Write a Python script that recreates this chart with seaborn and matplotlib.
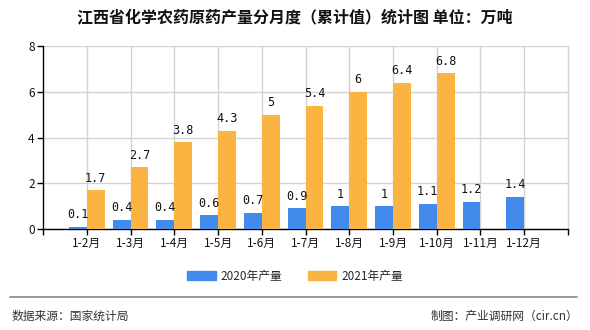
import numpy as np
import pandas as pd
import matplotlib
matplotlib.use("Agg")
import matplotlib.pyplot as plt
import seaborn as sns

months = ["1-2月", "1-3月", "1-4月", "1-5月", "1-6月", "1-7月", "1-8月",
          "1-9月", "1-10月", "1-11月", "1-12月"]
output_2020 = [0.1, 0.4, 0.4, 0.6, 0.7, 0.9, 1, 1, 1.1, 1.2, 1.4]
output_2021 = [1.7, 2.7, 3.8, 4.3, 5, 5.4, 6, 6.4, 6.8, None, None]
series_names = ["2020年产量", "2021年产量"]
colors = ["#428BEC", "#FBB442"]
y_ticks = [0, 2, 4, 6, 8]

sns.set_theme(style="white")
plt.rcParams["font.family"] = ["Noto Sans CJK SC", "DejaVu Sans"]

rows = []
for name, vals in zip(series_names, [output_2020, output_2021]):
    for m, v in zip(months, vals):
        if v is not None:
            rows.append({"月份": m, "系列": name, "产量": v})
df = pd.DataFrame(rows)

fig = plt.figure(figsize=(5.9, 3.3), dpi=100)
ax = fig.add_axes([0.0729, 0.306, 0.8898, 0.5545])

sns.barplot(data=df, x="月份", y="产量", hue="系列", order=months,
            hue_order=series_names, palette=colors, width=0.82,
            errorbar=None, saturation=1, linewidth=0, ax=ax, zorder=3,
            legend=True)

for cont in ax.containers:
    ax.bar_label(cont, labels=[f"{v:g}" for v in cont.datavalues],
                 padding=4, fontsize=8.5, family="DejaVu Sans Mono", color="#111111")

n = len(months)
ax.set_xlim(-1, n)
ax.set_ylim(0, 8)
ax.set_yticks(y_ticks)
ax.set_xticks(range(n))
ax.set_xticklabels(months)
ax.set_xticks([-1, n], minor=True)
ax.set_xlabel("")
ax.set_ylabel("")
ax.tick_params(axis="both", which="both", labelsize=8.5, length=4, width=1,
               color="black", direction="out", pad=2, labelcolor="#111111")
ax.tick_params(axis="x", which="both", bottom=True)
ax.tick_params(axis="y", left=True)

ax.grid(True, axis="both", color="#d3d3d3", linewidth=1, zorder=0)
ax.set_axisbelow(True)
for side in ["left", "bottom"]:
    ax.spines[side].set_color("black")
    ax.spines[side].set_linewidth(1)
ax.spines["top"].set_visible(False)
ax.spines["right"].set_color("#d3d3d3")
ax.spines["right"].set_linewidth(1)

ax.legend_.remove()
handles = [plt.Rectangle((0, 0), 1, 1, color=c) for c in colors]
fig.legend(handles, series_names, loc="center", bbox_to_anchor=(0.5, 0.162),
           ncol=2, frameon=False, fontsize=8.5, handlelength=2.4,
           handleheight=0.8, columnspacing=2.2, handletextpad=0.4)

fig.text(0.5, 0.945, "江西省化学农药原药产量分月度（累计值）统计图 单位：万吨",
         ha="center", va="center", fontsize=11.5, fontweight="bold", color="#111111")

fig.add_artist(plt.Line2D([0.017, 0.978], [0.1, 0.1], color="#888888",
                          linewidth=1.2, transform=fig.transFigure))
fig.text(0.02, 0.042, "数据来源：国家统计局", ha="left", va="center",
         fontsize=8.5, color="#333333")
fig.text(0.98, 0.042, "制图：产业调研网（cir.cn）", ha="right", va="center",
         fontsize=8.5, color="#333333")

fig.savefig("out.png", dpi=100)
